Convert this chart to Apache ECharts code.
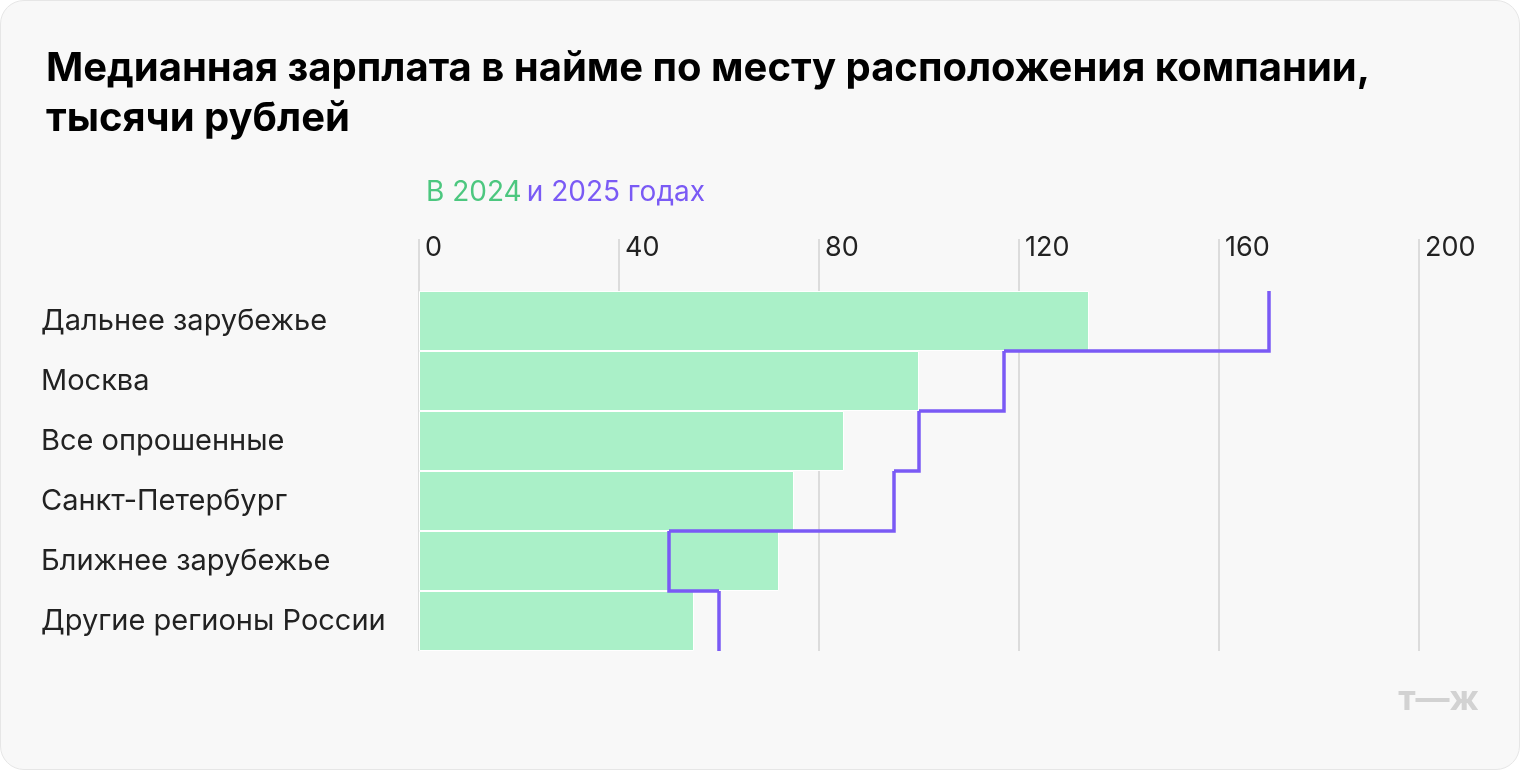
<!DOCTYPE html>
<html>
<head>
<meta charset="utf-8">
<script src="https://cdn.jsdelivr.net/npm/echarts@6/dist/echarts.min.js"></script>
<style>
body{margin:0;background:#fff;}
#chart{width:1518px;height:768px;border:1px solid #e6e6e6;border-radius:24px;background:#f8f8f8;overflow:hidden;}
</style>
</head>
<body>
<div id="chart"></div>
<script>
let categories = ['Дальнее зарубежье', 'Москва', 'Все опрошенные', 'Санкт-Петербург', 'Ближнее зарубежье', 'Другие регионы России'];
let values2024 = [134, 100, 85, 75, 72, 55];
let values2025 = [170, 117, 100, 95, 50, 60];
let ticks = [0, 40, 80, 120, 160, 200];

let chart = echarts.init(document.getElementById('chart'));
let font = 'Inter, Roboto, sans-serif';

chart.setOption({
    textStyle: {fontFamily: font},
    title: [{
        text: 'Медианная зарплата в найме по месту расположения компании,\nтысячи рублей',
        left: 40, top: 38,
        textStyle: {fontSize: 40, fontWeight: 'bold', color: '#000', lineHeight: 50, fontFamily: font}
    }, {
        text: '{g|В 2024} {p|и 2025 годах}',
        left: 420, top: 173,
        textStyle: {fontWeight: 'normal', rich: {
            g: {fontSize: 28, color: '#4cc77f', fontFamily: font, fontWeight: 'normal'},
            p: {fontSize: 28, color: '#7a5af5', fontFamily: font, fontWeight: 'normal'}
        }}
    }],
    grid: {left: 418, top: 290, width: 1000, height: 360},
    xAxis: {
        type: 'value', position: 'top', min: 0, max: 200, interval: 40,
        axisLine: {show: false},
        axisTick: {show: true, length: 52, lineStyle: {color: '#dcdcdc', width: 2}},
        splitLine: {show: true, lineStyle: {color: '#dcdcdc', width: 2}},
        axisLabel: {align: 'left', padding: [0, 0, 0, 6], margin: 30, fontSize: 27, color: '#222',
            formatter: v => ticks.includes(v) ? String(v) : ''}
    },
    yAxis: {
        type: 'category', data: categories, inverse: true,
        axisLine: {show: false}, axisTick: {show: false},
        axisLabel: {align: 'left', margin: 378, fontSize: 29, color: '#222'}
    },
    series: [{
        type: 'bar', data: values2024, barCategoryGap: 0, silent: true,
        itemStyle: {color: '#aaf0c8', borderColor: '#fff', borderWidth: 1}
    }, {
        type: 'custom', data: values2025, silent: true, z: 5,
        renderItem: (params, api) => {
            let i = params.dataIndex;
            let v = api.value(0);
            let c = api.coord([v, i]);
            let h = api.size([0, 1])[1];
            let pts = [[c[0], c[1] - h / 2], [c[0], c[1] + h / 2]];
            if (i < values2025.length - 1) {
                let n = api.coord([values2025[i + 1], i + 1]);
                pts.push([n[0], c[1] + h / 2]);
            }
            return {
                type: 'polyline',
                shape: {points: pts},
                style: {stroke: '#7a5af5', lineWidth: 3.5, fill: null, lineJoin: 'miter'}
            };
        },
        encode: {x: 0}
    }],
    graphic: [{
        type: 'text', right: 40, top: 682,
        style: {text: 'т—ж', fontSize: 34, fontWeight: 'bold', fill: '#d2d2d2', fontFamily: font}
    }]
});
</script>
</body>
</html>
